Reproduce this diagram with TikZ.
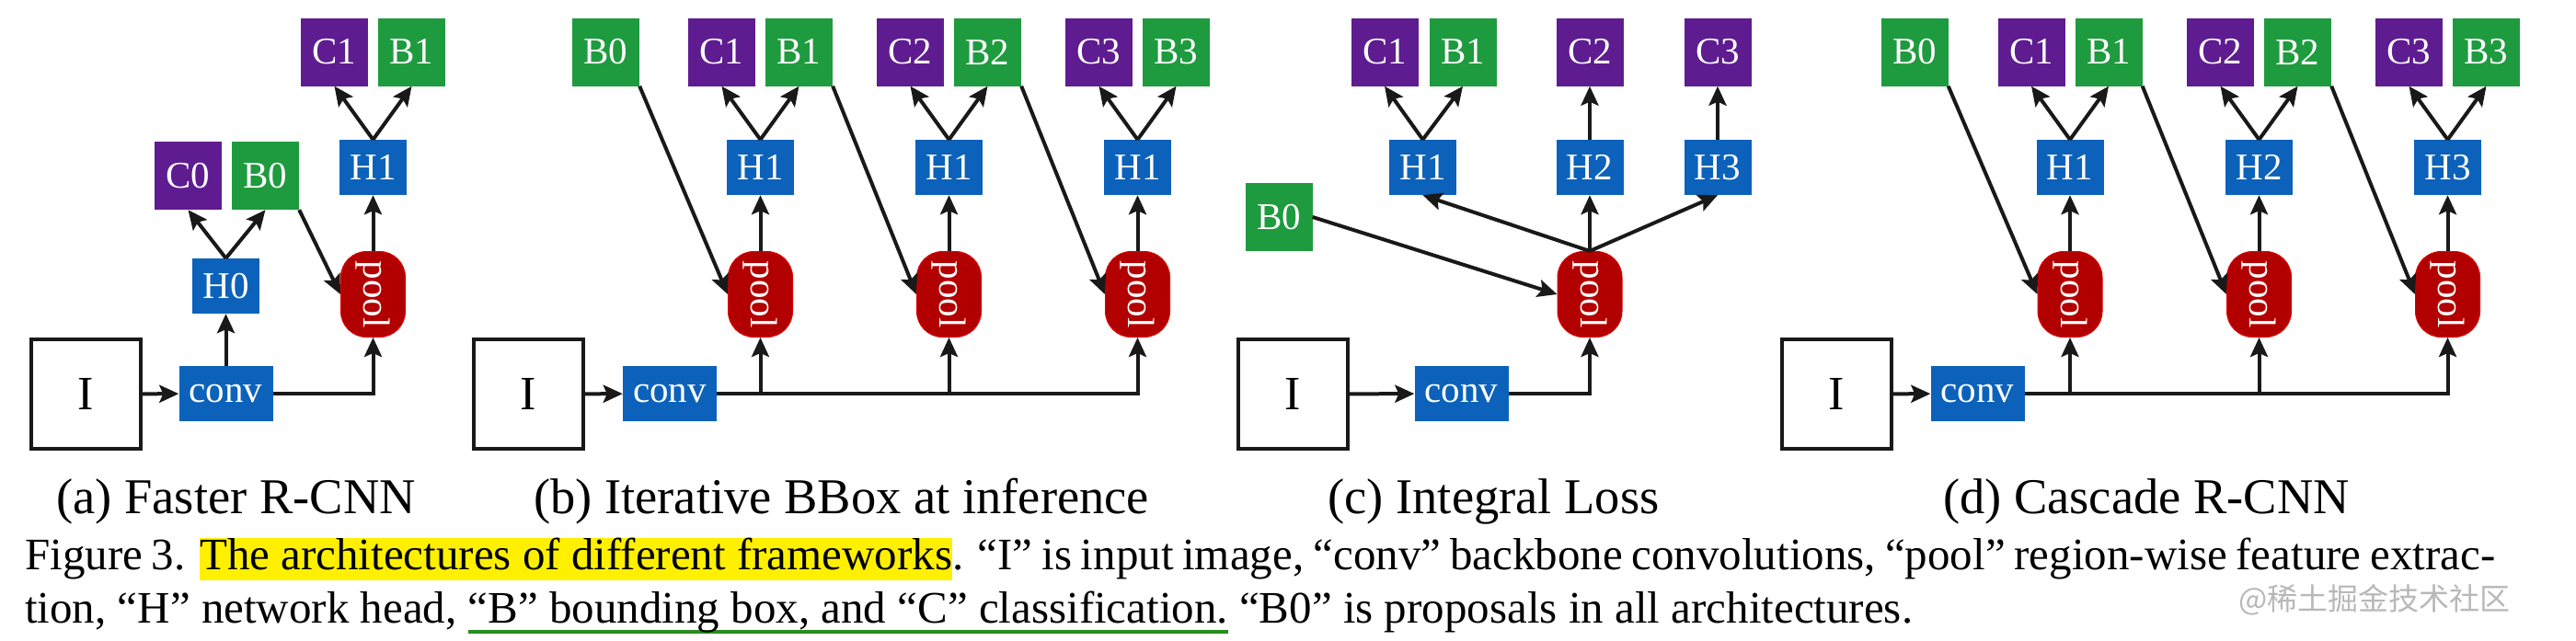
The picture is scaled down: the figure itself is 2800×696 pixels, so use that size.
\documentclass[tikz,border=0pt]{standalone}
\usepackage{fontspec}
\setmainfont{Liberation Serif}
\newfontfamily\cjk{Noto Sans CJK SC}
\usetikzlibrary{arrows.meta}
\definecolor{cpurple}{RGB}{94,28,144}
\definecolor{bgreen}{RGB}{30,155,62}
\definecolor{hblue}{RGB}{12,98,186}
\definecolor{pred}{RGB}{178,0,0}
\definecolor{hlyellow}{RGB}{255,240,0}
\definecolor{ulgreen}{RGB}{40,140,30}
\newsavebox\ulbox
\newcommand\greenul[1]{\sbox\ulbox{#1}\rlap{\color{ulgreen}\rule[-12pt]{\wd\ulbox}{4pt}}\usebox\ulbox}
\newcommand\hlyel[1]{{\setlength{\fboxsep}{0pt}\colorbox{hlyellow}{\rule[-12pt]{0pt}{42pt}#1}}}
\tikzset{
  lbl/.style={inner sep=0pt, text=white, font=\fontsize{41}{41}\selectfont},
  cbox/.style={lbl, fill=cpurple, minimum width=73pt, minimum height=74pt},
  bbox/.style={lbl, fill=bgreen, minimum width=73pt, minimum height=74pt},
  hbox/.style={lbl, fill=hblue, minimum width=73pt, minimum height=60pt},
  convbox/.style={lbl, fill=hblue, minimum width=102pt, minimum height=60pt},
  poolbox/.style={lbl, fill=pred, draw=red!55!pred, line width=1pt, rounded corners=28pt, minimum width=70pt, minimum height=93pt},
  ibox/.style={draw=black!90, line width=4pt, fill=white, minimum size=119pt, inner sep=0pt, font=\fontsize{52}{52}\selectfont},
  arr/.style={-{Stealth[length=21pt,width=19pt,inset=4pt]}, line width=4pt, draw=black!90},
  subcap/.style={anchor=base, inner sep=0pt, font=\fontsize{54.5}{60}\selectfont},
  captext/.style={anchor=base west, inner sep=0pt, font=\fontsize{49}{60}\selectfont},
}
\newcommand\pooltxt{\rotatebox[origin=c]{-90}{pool}}
\begin{document}
\begin{tikzpicture}[x=1pt,y=-1pt]
\fill[white] (0,0) rectangle (2800,696);
\useasboundingbox (0,0) rectangle (2800,696);

% ---------------- (a) Faster R-CNN
\node[ibox] (Ia) at (93.5,428.5) {I};
\node[convbox] (conva) at (245.5,428) {conv};
\node[hbox] (H0a) at (245.5,311) {H0};
\node[cbox] (C0a) at (204.5,191) {C0};
\node[bbox] (B0a) at (288.5,191) {B0};
\node[poolbox] (Pa) at (405.5,320) {\pooltxt};
\node[hbox] (H1a) at (405.5,182) {H1};
\node[cbox] (C1a) at (363.5,56.5) {C1};
\node[bbox] (B1a) at (447.5,56.5) {B1};
\draw[arr] (Ia) -- (conva);
\draw[arr] (conva) -- (H0a);
\draw[arr] (H0a.north) -- (C0a.south);
\draw[arr] (H0a.north) -- (B0a.south);
\draw[arr] (B0a.south east) -- (Pa.west);
\draw[arr] (conva.east) -| (Pa.south);
\draw[arr] (Pa) -- (H1a);
\draw[arr] (H1a.north) -- (C1a.south);
\draw[arr] (H1a.north) -- (B1a.south);

% ---------------- (b) Iterative BBox
\node[ibox] (Ib) at (574,428.5) {I};
\node[convbox] (convb) at (728,428) {conv};
\node[bbox] (Bb0) at (658.5,56.5) {B0};
\foreach \i/\x in {1/826.5,2/1031.5,3/1236.5}{
  \node[poolbox] (Pb\i) at (\x,320) {\pooltxt};
  \node[hbox] (Hb\i) at (\x,182) {H1};
  \node[cbox] (Cb\i) at (\x-42,56.5) {C\i};
  \node[bbox] (Bb\i) at (\x+42,56.5) {B\i};
}
\draw[arr] (Ib) -- (convb);
\draw[arr] (convb.east) -| (Pb3.south);
\foreach \i in {1,2}{ \draw[arr] (Pb\i.south |- convb.east) -- (Pb\i.south); }
\draw[arr] (Bb0.south east) -- (Pb1.west);
\draw[arr] (Bb1.south east) -- (Pb2.west);
\draw[arr] (Bb2.south east) -- (Pb3.west);
\foreach \i in {1,2,3}{
  \draw[arr] (Pb\i) -- (Hb\i);
  \draw[arr] (Hb\i.north) -- (Cb\i.south);
  \draw[arr] (Hb\i.north) -- (Bb\i.south);
}

% ---------------- (c) Integral Loss
\node[ibox] (Ic) at (1405.5,428.5) {I};
\node[convbox] (convc) at (1588.5,428) {conv};
\node[bbox] (Bc0) at (1390,236) {B0};
\node[poolbox] (Pc) at (1728,320) {\pooltxt};
\node[hbox] (Hc1) at (1546.5,182) {H1};
\node[hbox] (Hc2) at (1728,182) {H2};
\node[hbox] (Hc3) at (1867,182) {H3};
\node[cbox] (Cc1) at (1505,56.5) {C1};
\node[bbox] (Bc1) at (1590,56.5) {B1};
\node[cbox] (Cc2) at (1728,56.5) {C2};
\node[cbox] (Cc3) at (1867,56.5) {C3};
\draw[arr] (Ic) -- (convc);
\draw[arr] (convc.east) -| (Pc.south);
\draw[arr] (Bc0.east) -- (Pc.west);
\draw[arr] (Pc.north) -- (Hc1.south);
\draw[arr] (Pc.north) -- (Hc2.south);
\draw[arr] (Pc.north) -- (Hc3.south);
\draw[arr] (Hc1.north) -- (Cc1.south);
\draw[arr] (Hc1.north) -- (Bc1.south);
\draw[arr] (Hc2) -- (Cc2);
\draw[arr] (Hc3) -- (Cc3);

% ---------------- (d) Cascade R-CNN
\node[ibox] (Id) at (1996.5,428.5) {I};
\node[convbox] (convd) at (2149.5,428) {conv};
\node[bbox] (Bd0) at (2081,56.5) {B0};
\foreach \i/\x in {1/2250,2/2455.5,3/2660.5}{
  \node[poolbox] (Pd\i) at (\x,320) {\pooltxt};
  \node[hbox] (Hd\i) at (\x,182) {H\i};
  \node[cbox] (Cd\i) at (\x-42,56.5) {C\i};
  \node[bbox] (Bd\i) at (\x+42,56.5) {B\i};
}
\draw[arr] (Id) -- (convd);
\draw[arr] (convd.east) -| (Pd3.south);
\foreach \i in {1,2}{ \draw[arr] (Pd\i.south |- convd.east) -- (Pd\i.south); }
\draw[arr] (Bd0.south east) -- (Pd1.west);
\draw[arr] (Bd1.south east) -- (Pd2.west);
\draw[arr] (Bd2.south east) -- (Pd3.west);
\foreach \i in {1,2,3}{
  \draw[arr] (Pd\i) -- (Hd\i);
  \draw[arr] (Hd\i.north) -- (Cd\i.south);
  \draw[arr] (Hd\i.north) -- (Bd\i.south);
}

% ---------------- captions
\node[subcap] (sa) at (256.5,558) {(a) Faster R-CNN};
\node[subcap] (sb) at (914.5,558) {(b) Iterative BBox at inference};
\node[subcap] (sc) at (1623.5,558) {(c) Integral Loss};
\node[subcap] (sd) at (2333,558) {(d) Cascade R-CNN};
\node[captext] (cap1) at (27,619) {\makebox[2685pt][s]{Figure 3. \hlyel{The architectures of different frameworks}. “I” is input image, “conv” backbone convolutions, “pool” region-wise feature extrac-}};
\node[captext] (cap2) at (27,677) {tion, “H” network head, \greenul{“B” bounding box, and “C” classification.} “B0” is proposals in all architectures.};
\node[text=black!28, font=\cjk\fontsize{33}{33}\selectfont, inner sep=0pt] (wm) at (2581,652) {@稀土掘金技术社区};
\end{tikzpicture}
\end{document}
